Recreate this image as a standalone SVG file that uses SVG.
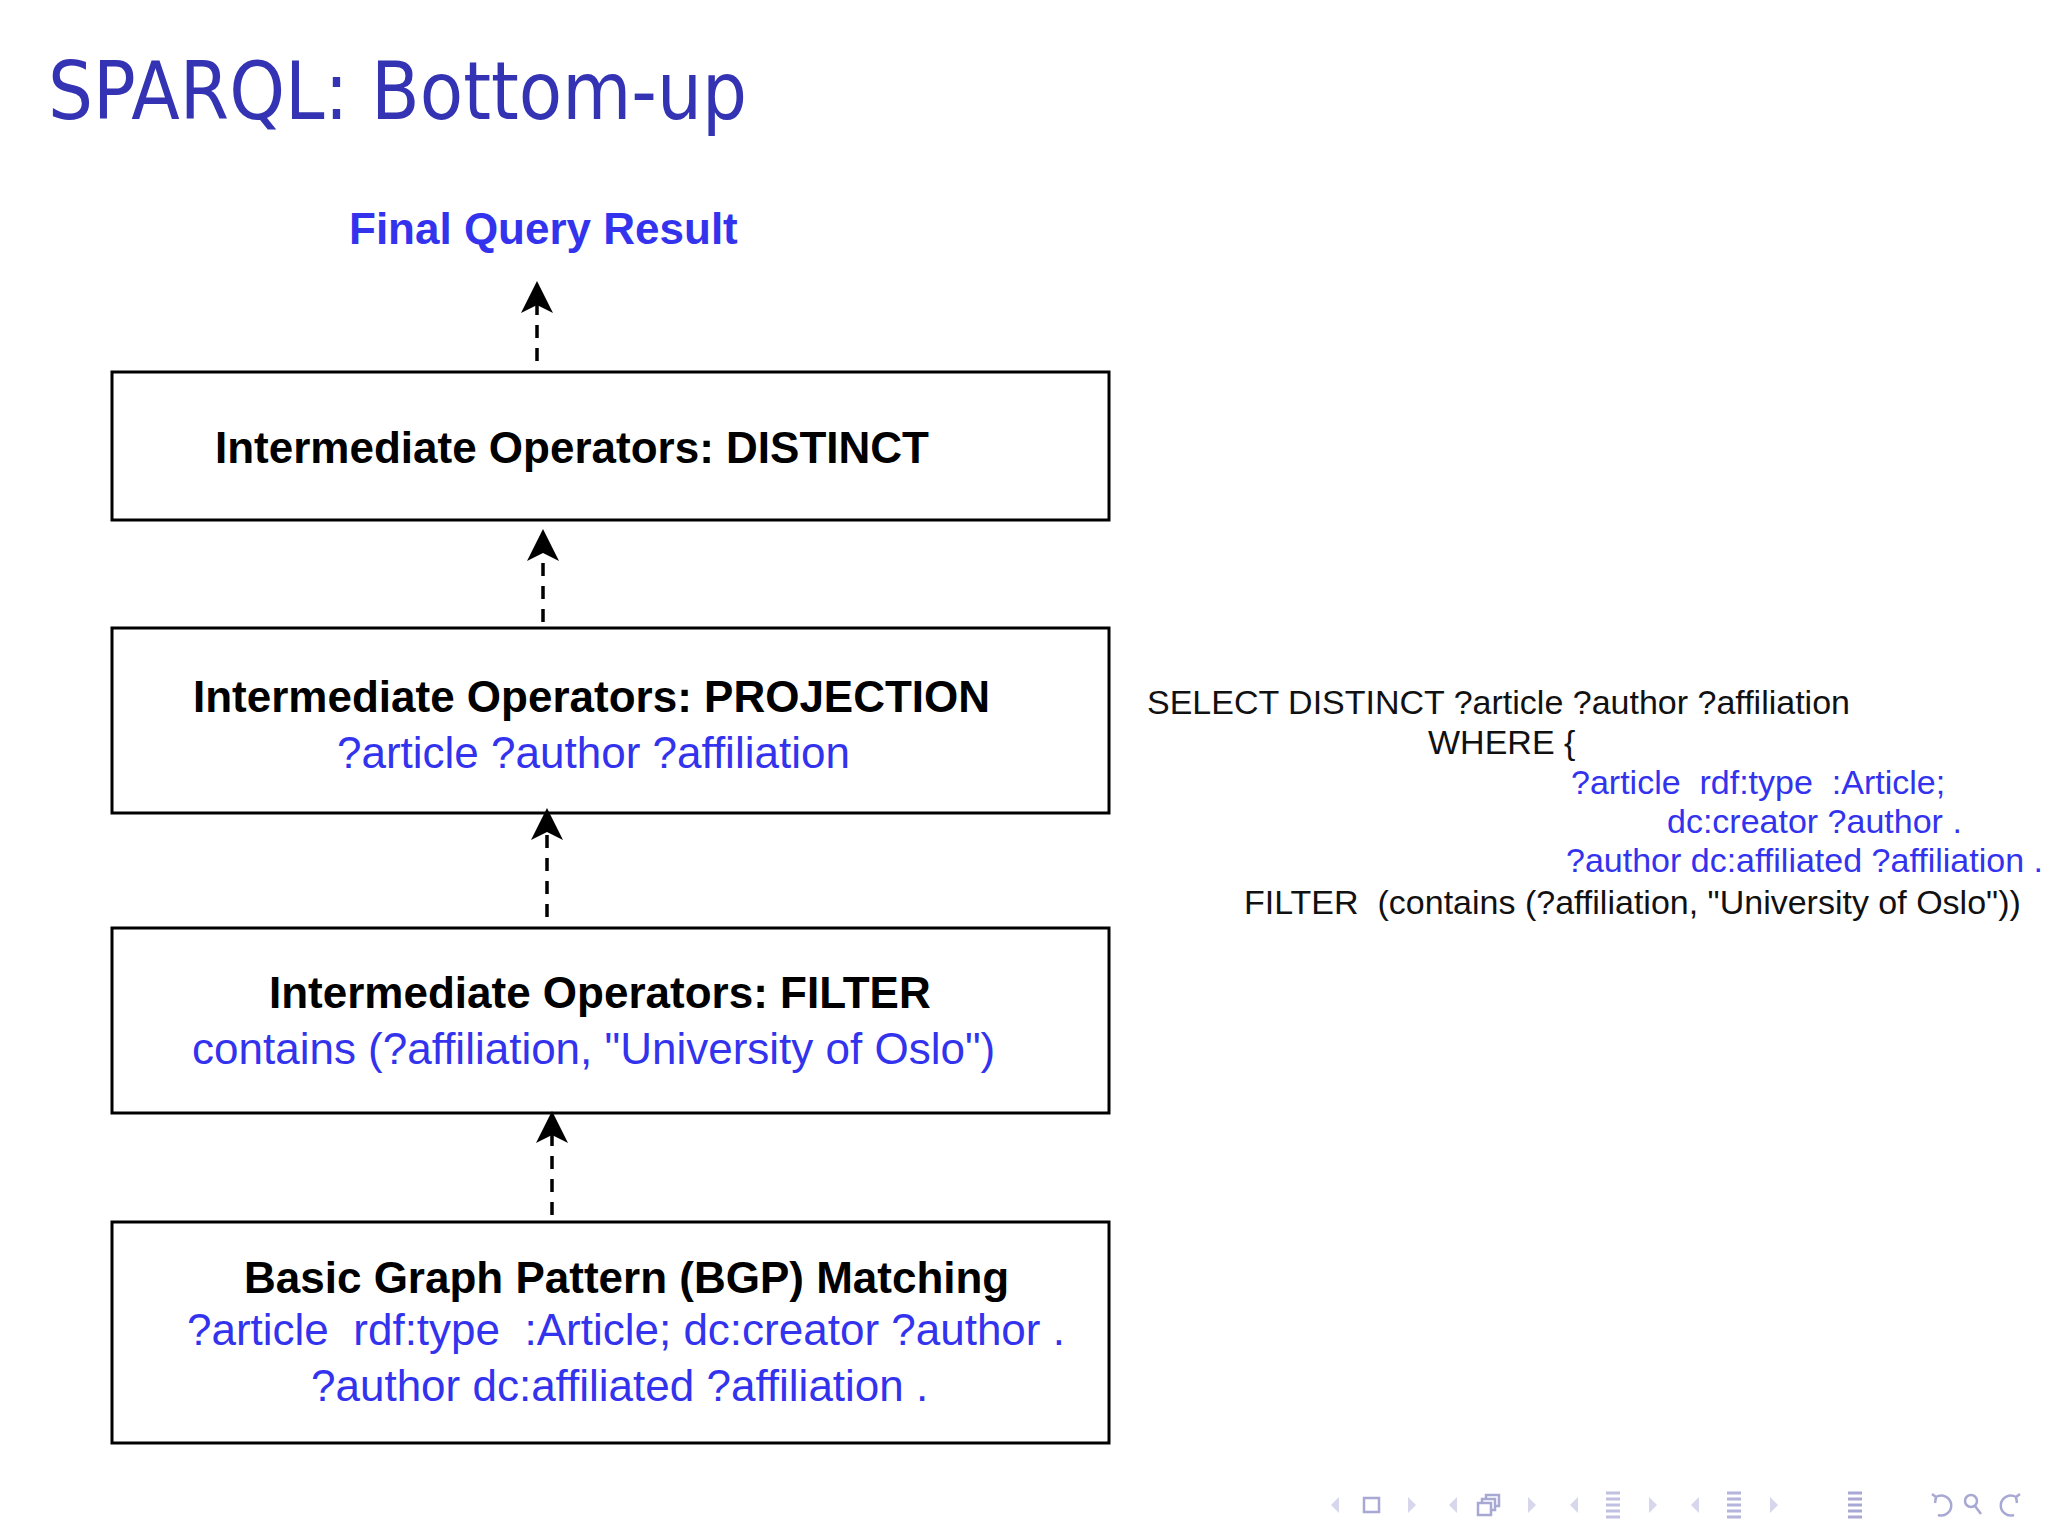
<svg xmlns="http://www.w3.org/2000/svg" width="2048" height="1536" viewBox="0 0 2048 1536">
<style>
.box{fill:#fff;stroke:#000;stroke-width:3}
.hd{font-family:"Liberation Sans",Arial,sans-serif;font-weight:bold;font-size:44px;fill:#000}
.bl{font-family:"Liberation Sans",Arial,sans-serif;font-size:44px;fill:#3333ee}
.q{font-family:"Liberation Sans",Arial,sans-serif;font-size:34px;fill:#111}
.qb{font-family:"Liberation Sans",Arial,sans-serif;font-size:34px;fill:#3333ee}
.edge{stroke:#000;stroke-width:3.5;stroke-dasharray:13 10;fill:none;marker-end:url(#arr)}
.nt{fill:#d6d6ec}
.ni{fill:none;stroke:#a8a8d4;stroke-width:2.5}
</style>
<defs>
<marker id="arr" markerUnits="userSpaceOnUse" viewBox="0 0 32 32" markerWidth="32" markerHeight="32" refX="8" refY="16" orient="auto">
<path d="M32,16 L0,0 L8,16 L0,32 Z" fill="#000" stroke="none"/>
</marker>
</defs>
<rect width="2048" height="1536" fill="#fff"/>
<text x="48" y="119" font-family="DejaVu Sans, sans-serif" font-size="80" fill="#3333b3" textLength="699" lengthAdjust="spacingAndGlyphs">SPARQL: Bottom-up</text>

<g id="result">
<text x="349" y="244" font-family="Liberation Sans, Arial, sans-serif" font-weight="bold" font-size="44" fill="#3333ee">Final Query Result</text>
</g>

<g id="distinct">
<rect class="box" x="112" y="372" width="997" height="148"/>
<text class="hd" x="215" y="463">Intermediate Operators: DISTINCT</text>
</g>

<g id="projection">
<rect class="box" x="112" y="628" width="997" height="185"/>
<text class="hd" x="193" y="712">Intermediate Operators: PROJECTION</text>
<text class="bl" x="337" y="768">?article ?author ?affiliation</text>
</g>

<g id="filter">
<rect class="box" x="112" y="928" width="997" height="185"/>
<text class="hd" x="269" y="1008">Intermediate Operators: FILTER</text>
<text class="bl" x="192" y="1064">contains (?affiliation, "University of Oslo")</text>
</g>

<g id="bgp">
<rect class="box" x="112" y="1222" width="997" height="221"/>
<text class="hd" x="244" y="1293">Basic Graph Pattern (BGP) Matching</text>
<text class="bl" x="187" y="1345" xml:space="preserve">?article  rdf:type  :Article; dc:creator ?author .</text>
<text class="bl" x="311" y="1401">?author dc:affiliated ?affiliation .</text>
</g>

<g id="connectors">
<line class="edge" x1="537" y1="361" x2="537" y2="305"/>
<line class="edge" x1="543" y1="622" x2="543" y2="553"/>
<line class="edge" x1="547" y1="917" x2="547" y2="832"/>
<line class="edge" x1="552" y1="1215" x2="552" y2="1135"/>
</g>

<g id="query">
<text class="q" x="1147" y="714">SELECT DISTINCT ?article ?author ?affiliation</text>
<text class="q" x="1428" y="754">WHERE {</text>
<text class="qb" x="1571" y="794" xml:space="preserve">?article  rdf:type  :Article;</text>
<text class="qb" x="1667" y="833">dc:creator ?author .</text>
<text class="qb" x="1566" y="872">?author dc:affiliated ?affiliation .</text>
<text class="q" x="1244" y="914" xml:space="preserve">FILTER  (contains (?affiliation, "University of Oslo"))</text>
</g>

<g id="nav">
<path class="nt" d="M1339,1497 L1331,1505 L1339,1513 Z"/>
<rect class="ni" x="1364" y="1498" width="15" height="14"/>
<path class="nt" d="M1408,1497 L1416,1505 L1408,1513 Z"/>
<path class="nt" d="M1457,1497 L1449,1505 L1457,1513 Z"/>
<rect class="ni" x="1478" y="1503" width="13" height="12"/>
<path class="ni" d="M1482,1503 V1499 H1495 V1510 H1491 M1486,1499 V1495 H1499 V1506 H1495"/>
<path class="nt" d="M1528,1497 L1536,1505 L1528,1513 Z"/>
<path class="nt" d="M1578,1497 L1570,1505 L1578,1513 Z"/>
<path d="M1606,1493 H1620 M1606,1499 H1620 M1606,1505 H1620 M1606,1511 H1620 M1606,1517 H1620" stroke="#c0c0e0" stroke-width="3"/>
<path class="nt" d="M1649,1497 L1657,1505 L1649,1513 Z"/>
<path class="nt" d="M1699,1497 L1691,1505 L1699,1513 Z"/>
<path d="M1727,1493 H1741 M1727,1499 H1741 M1727,1505 H1741 M1727,1511 H1741 M1727,1517 H1741" stroke="#b4b4dc" stroke-width="3"/>
<path class="nt" d="M1770,1497 L1778,1505 L1770,1513 Z"/>
<path d="M1848,1493 H1862 M1848,1499 H1862 M1848,1505 H1862 M1848,1511 H1862 M1848,1517 H1862" stroke="#a8a8d4" stroke-width="3"/>
<path class="ni" d="M1936,1497 A10,10 0 1 1 1938,1515 M1932,1494 L1936,1497 L1935,1503"/>
<circle class="ni" cx="1971" cy="1501" r="6"/>
<path class="ni" d="M1975,1506 L1981,1514"/>
<path class="ni" d="M2016,1497 A10,10 0 1 0 2014,1515 M2020,1494 L2016,1497 L2017,1503"/>
</g>
</svg>
